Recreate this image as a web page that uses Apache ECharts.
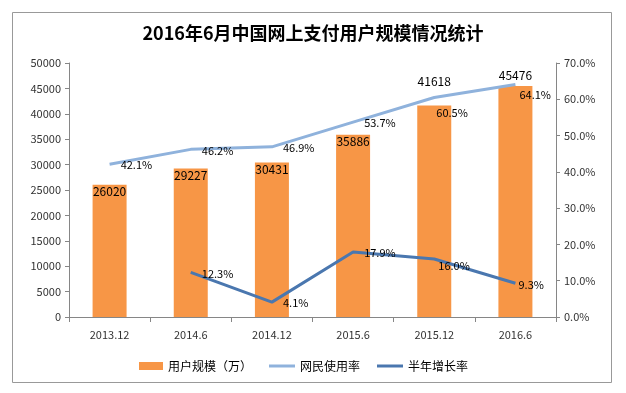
<!DOCTYPE html>
<html><head><meta charset="utf-8">
<script src="https://cdn.jsdelivr.net/npm/echarts@6/dist/echarts.min.js"></script>
<style>html,body{margin:0;padding:0;background:#fff}#c{width:626px;height:393px}</style>
</head><body><div id="c"></div>
<script>
const categories = ['2013.12','2014.6','2014.12','2015.6','2015.12','2016.6'];
const users = [26020, 29227, 30431, 35886, 41618, 45476];
const usageRate = [42.1, 46.2, 46.9, 53.7, 60.5, 64.1];
const growthRate = [null, 12.3, 4.1, 17.9, 16.0, 9.3];

const font = "'Noto Sans CJK SC', 'DejaVu Sans', sans-serif";
const chart = echarts.init(document.getElementById('c'));
const axisLine = {show: true, lineStyle: {color: '#868686', width: 1}};
const lineLabel = {show: true, position: 'right', distance: 11, fontSize: 11, color: '#000', fontFamily: font,
  formatter: p => (p.value == null ? '' : Number(p.value).toFixed(1) + '%'), offset: [0, 1]};
// per-point label nudges, mirroring the reference placement
const usageLabelAdj = [null, null, null, null, {distance: 2, offset: [0, 15]}, {distance: 4, offset: [0, 10]}];
const growthLabelAdj = [null, null, null, null, {distance: 4, offset: [0, 7]}, {distance: 3, offset: [0, 2]}];
const withAdj = (vals, adj) => vals.map((v, i) => adj[i] ? {value: v, label: adj[i]} : v);
chart.setOption({
  backgroundColor: '#fff',
  animation: false,
  textStyle: {fontFamily: font},
  title: {
    text: '2016年6月中国网上支付用户规模情况统计',
    left: 'center', top: 19,
    textStyle: {fontSize: 18, fontWeight: 'bold', color: '#000', fontFamily: font}
  },
  graphic: [{
    type: 'rect', shape: {x: 12.5, y: 12.5, width: 599, height: 370},
    style: {fill: 'none', stroke: '#999', lineWidth: 1}, silent: true, z: -1
  }],
  legend: [{
    top: 355, left: 134, itemWidth: 24, itemHeight: 8,
    textStyle: {fontSize: 12, color: '#000', fontFamily: font},
    data: [{name: '用户规模（万）', icon: 'rect'}]
  }, {
    top: 355, left: 264, itemGap: 17, itemWidth: 26, itemHeight: 3,
    textStyle: {fontSize: 12, color: '#000', fontFamily: font},
    data: [
      {name: '网民使用率', icon: 'rect', itemStyle: {color: '#8FB2DC'}},
      {name: '半年增长率', icon: 'rect', itemStyle: {color: '#4A77AF'}}
    ]
  }],
  grid: {left: 69, right: 70, top: 63, bottom: 76},
  xAxis: {
    type: 'category', data: categories,
    axisLine: axisLine,
    axisTick: {show: true, alignWithLabel: false, length: 5, lineStyle: {color: '#868686'}},
    axisLabel: {fontSize: 11, color: '#333', margin: 12},
    splitLine: {show: false}
  },
  yAxis: [{
    type: 'value', min: 0, max: 50000, interval: 5000,
    axisLine: axisLine,
    axisTick: {show: true, length: 4, lineStyle: {color: '#868686'}},
    axisLabel: {fontSize: 11, color: '#333', margin: 8, formatter: v => String(v)},
    splitLine: {show: false}
  }, {
    type: 'value', min: 0, max: 70, interval: 10, position: 'right',
    axisLine: axisLine,
    axisTick: {show: true, length: 4, lineStyle: {color: '#868686'}},
    axisLabel: {fontSize: 11, color: '#333', margin: 8, formatter: v => v.toFixed(1) + '%'},
    splitLine: {show: false}
  }],
  series: [{
    name: '用户规模（万）', type: 'bar', barWidth: 34,
    itemStyle: {color: '#F79646'},
    data: users.map((v, i) => ({
      value: v,
      label: i >= 4 ? {position: 'top', distance: i === 4 ? 18 : 5} : {position: 'insideTop', distance: 1}
    })),
    label: {show: true, fontSize: 12, color: '#000', fontFamily: font},
    z: 1
  }, {
    name: '网民使用率', type: 'line', yAxisIndex: 1, data: withAdj(usageRate, usageLabelAdj),
    symbol: 'circle', symbolSize: 0.1, showSymbol: true,
    lineStyle: {color: '#8FB2DC', width: 3},
    itemStyle: {color: '#8FB2DC'},
    label: lineLabel,
    z: 3
  }, {
    name: '半年增长率', type: 'line', yAxisIndex: 1, data: withAdj(growthRate, growthLabelAdj),
    symbol: 'circle', symbolSize: 0.1, showSymbol: true,
    lineStyle: {color: '#4A77AF', width: 3},
    itemStyle: {color: '#4A77AF'},
    label: lineLabel,
    z: 3
  }]
});
</script></body></html>
